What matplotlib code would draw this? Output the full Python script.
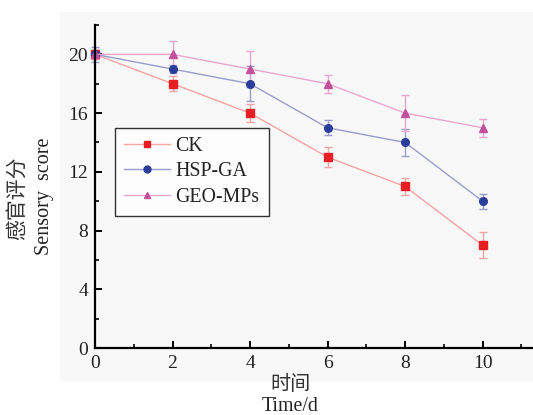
import matplotlib
matplotlib.use("Agg")
import matplotlib.pyplot as plt
from matplotlib.lines import Line2D
from matplotlib.patches import Rectangle
from matplotlib.ticker import MultipleLocator

days = [0, 2, 4, 6, 8, 10]
ck = [20, 18, 16, 13, 11, 7]
ck_err = [0.3, 0.5, 0.6, 0.7, 0.6, 0.9]
hsp_ga = [20, 19, 18, 15, 14, 10]
hsp_ga_err = [0.5, 0.3, 1.2, 0.5, 0.9, 0.5]
geo_mps = [20, 20, 19, 18, 16, 15]
geo_mps_err = [0.3, 0.9, 1.2, 0.6, 1.2, 0.6]

series = [
    ("CK", ck, ck_err, "s", "#e81e25", "#f5a3a3"),
    ("HSP-GA", hsp_ga, hsp_ga_err, "o", "#2a3d9a", "#9a9ccc"),
    ("GEO-MPs", geo_mps, geo_mps_err, "^", "#c2509c", "#eaa6cc"),
]

serif = ["Liberation Serif", "DejaVu Serif"]
cjk = ["Noto Sans CJK SC", "DejaVu Sans"]

fig = plt.figure(figsize=(5.33, 4.15), dpi=100)
fig.patches.append(Rectangle((60 / 533, 1 - 382 / 415), 473 / 533, 370 / 415,
                             transform=fig.transFigure, facecolor="#f8f8f8",
                             edgecolor="none", zorder=0))
ax = fig.add_axes([95 / 533, 1 - 348 / 415, 438 / 533, 323 / 415])
ax.set_zorder(2)
ax.patch.set_alpha(0)

handles = []
for name, vals, errs, marker, mcol, lcol in series:
    ax.errorbar(days, vals, yerr=errs, color=lcol, ecolor=lcol, lw=1,
                elinewidth=1, capsize=3, capthick=1, marker=marker,
                markersize=5.5, markerfacecolor=mcol, markeredgecolor=mcol,
                clip_on=False)
    handles.append(Line2D([], [], color=lcol, lw=1, marker=marker,
                          markersize=5, markerfacecolor=mcol,
                          markeredgecolor=mcol, label=name))

ax.set_xlim(0, 11.3)
ax.set_ylim(0, 22)
ax.xaxis.set_major_locator(MultipleLocator(2))
ax.xaxis.set_minor_locator(MultipleLocator(1))
ax.yaxis.set_major_locator(MultipleLocator(4))
ax.yaxis.set_minor_locator(MultipleLocator(2))
ax.spines["top"].set_visible(False)
ax.spines["right"].set_visible(False)
for s in ("left", "bottom"):
    ax.spines[s].set_linewidth(1.6)
ax.tick_params(which="major", direction="in", length=5, width=1.4,
               labelsize=14, pad=5, labelcolor="#222222")
ax.tick_params(which="minor", direction="in", length=3, width=1.2)
for lab in ax.get_xticklabels() + ax.get_yticklabels():
    lab.set_family(serif)

leg = ax.legend(handles=handles, loc="upper left",
                bbox_to_anchor=(20 / 438, 220 / 323), borderaxespad=0,
                frameon=True, fancybox=False, edgecolor="black",
                handlelength=2.3, handletextpad=0.3, labelspacing=0.32,
                borderpad=0.45, prop={"family": serif, "size": 14.3})
leg.get_frame().set_linewidth(1)
leg.get_frame().set_facecolor("white")
for t in leg.get_texts():
    t.set_color("#222222")

fig.text(17 / 533, 1 - 198 / 415, "感官评分", rotation=90, ha="center",
         va="center", family=cjk, fontsize=15, color="#333333")
fig.text(44 / 533, 1 - 196 / 415, "Sensory  score", rotation=90, ha="center",
         va="center", family=serif, fontsize=14.5, color="#222222")
fig.text(290 / 533, 1 - 384 / 415, "时间", ha="center", va="center",
         family=cjk, fontsize=14.5, color="#333333")
fig.text(290 / 533, 1 - 406 / 415, "Time/d", ha="center", va="center",
         family=serif, fontsize=14.3, color="#222222")

fig.savefig("out.png", dpi=100)
